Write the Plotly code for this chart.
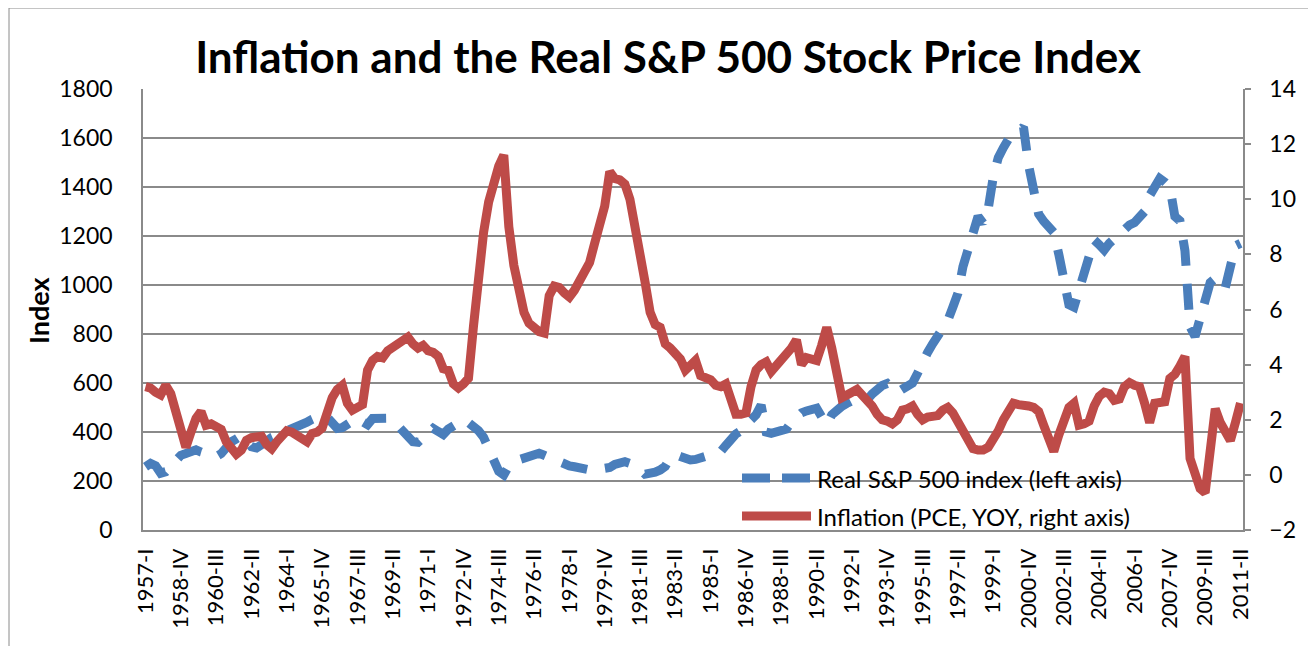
import plotly.graph_objects as go

# ---------------- data ----------------
YEARS = list(range(1957, 2012))
ROMAN = ["I", "II", "III", "IV"]
QUARTERS = [f"{y}-{r}" for y in YEARS for r in ROMAN][:218]  # 1957-I .. 2011-II

TICK_LABELS = ["1957-I", "1958-IV", "1960-III", "1962-II", "1964-I", "1965-IV",
               "1967-III", "1969-II", "1971-I", "1972-IV", "1974-III", "1976-II",
               "1978-I", "1979-IV", "1981-III", "1983-II", "1985-I", "1986-IV",
               "1988-III", "1990-II", "1992-I", "1993-IV", "1995-III", "1997-II",
               "1999-I", "2000-IV", "2002-III", "2004-II", "2006-I", "2007-IV",
               "2009-III", "2011-II"]

# Real S&P 500 index (left axis), quarterly
SP500_REAL = [
    258, 272, 262, 232,      # 1957
    238, 262, 285, 305,      # 1958
    312, 322, 327, 318,      # 1959
    312, 306, 300, 312,      # 1960
    340, 360, 372, 385,      # 1961
    365, 340, 335, 345,      # 1962
    362, 378, 386, 398,      # 1963
    410, 418, 425, 430,      # 1964
    440, 452, 460, 470,      # 1965
    460, 435, 415, 418,      # 1966
    432, 445, 458, 442,      # 1967
    430, 455, 456, 462,      # 1968
    456, 448, 425, 412,      # 1969
    385, 360, 358, 375,      # 1970
    398, 415, 402, 390,      # 1971
    412, 428, 440, 450,      # 1972
    438, 422, 405, 378,      # 1973
    335, 290, 240, 225,      # 1974
    262, 280, 288, 298,      # 1975
    306, 310, 313, 305,      # 1976
    295, 283, 275, 268,      # 1977
    262, 258, 252, 250,      # 1978
    245, 245, 246, 245,      # 1979
    255, 268, 276, 279,      # 1980
    272, 264, 248, 228,      # 1981
    228, 236, 245, 260,      # 1982
    295, 308, 300, 292,      # 1983
    286, 288, 293, 299,      # 1984
    305, 312, 320, 345,      # 1985
    372, 392, 405, 412,      # 1986
    450, 470, 510, 400,      # 1987
    395, 400, 406, 412,      # 1988
    440, 462, 478, 486,      # 1989
    492, 497, 462, 430,      # 1990
    470, 492, 505, 517,      # 1991
    528, 538, 535, 531,      # 1992
    555, 575, 590, 598,      # 1993
    582, 562, 575, 590,      # 1994
    600, 640, 690, 725,      # 1995
    760, 790, 815, 855,      # 1996
    910, 966, 1075, 1140,    # 1997
    1220, 1280, 1252, 1310,  # 1998
    1440, 1520, 1560, 1595,  # 1999
    1610, 1630, 1645, 1490,  # 2000
    1390, 1290, 1260, 1240,  # 2001
    1215, 1125, 1000, 920,   # 2002
    910, 975, 1060, 1116,    # 2003
    1184, 1165, 1143, 1170,  # 2004
    1190, 1205, 1225, 1245,  # 2005
    1255, 1280, 1300, 1365,  # 2006
    1400, 1435, 1420, 1400,  # 2007
    1280, 1262, 1140, 830,   # 2008
    790, 860, 935, 1010,     # 2009
    1027, 1027, 990, 1100,   # 2010
    1160, 1170,              # 2011
]

# Inflation, PCE year over year (right axis), quarterly
INFLATION = [
    3.2, 3.15, 3.0, 2.9,     # 1957
    3.25, 2.95, 2.3, 1.6,    # 1958
    1.0, 1.55, 2.05, 2.3,    # 1959
    1.8, 1.85, 1.75, 1.65,   # 1960
    1.2, 0.95, 0.75, 0.9,    # 1961
    1.25, 1.35, 1.4, 1.4,    # 1962
    1.1, 0.95, 1.2, 1.4,     # 1963
    1.6, 1.55, 1.45, 1.3,    # 1964
    1.2, 1.5, 1.55, 1.7,     # 1965
    2.3, 2.8, 3.1, 3.25,     # 1966
    2.6, 2.35, 2.45, 2.55,   # 1967
    3.8, 4.15, 4.3, 4.25,    # 1968
    4.5, 4.65, 4.8, 4.95,    # 1969
    5.0, 4.75, 4.6, 4.7,     # 1970
    4.5, 4.45, 4.3, 3.85,    # 1971
    3.8, 3.3, 3.15, 3.3,     # 1972
    3.5, 5.4, 7.3, 8.8,      # 1973
    9.9, 10.7, 11.2, 11.6,   # 1974
    9.0, 7.6, 6.6, 5.9,      # 1975
    5.5, 5.3, 5.2, 5.15,     # 1976
    6.5, 6.85, 6.8, 6.6,     # 1977
    6.45, 6.7, 7.05, 7.45,   # 1978
    7.7, 8.4, 9.2, 9.75,     # 1979
    11.0, 10.75, 10.7, 10.55,  # 1980
    10.0, 9.1, 8.2, 7.0,     # 1981
    5.9, 5.45, 5.35, 4.75,   # 1982
    4.6, 4.45, 4.2, 3.8,     # 1983
    3.95, 4.15, 3.6, 3.5,    # 1984
    3.45, 3.25, 3.2, 3.3,    # 1985
    2.8, 2.2, 2.2, 2.25,     # 1986
    3.2, 3.8, 4.0, 4.1,      # 1987
    3.75, 3.95, 4.2, 4.4,    # 1988
    4.6, 4.9, 4.0, 4.25,     # 1989
    4.2, 4.15, 4.7, 5.35,    # 1990
    4.6, 3.7, 2.8, 2.9,      # 1991
    3.05, 3.1, 2.9, 2.75,    # 1992
    2.5, 2.2, 2.0, 1.95,     # 1993
    1.85, 2.0, 2.35, 2.4,    # 1994
    2.5, 2.2, 2.0, 2.1,      # 1995
    2.15, 2.15, 2.35, 2.45,  # 1996
    2.25, 1.95, 1.65, 1.2,   # 1997
    0.95, 0.9, 0.9, 1.0,     # 1998
    1.25, 1.6, 2.0, 2.35,    # 1999
    2.6, 2.55, 2.55, 2.5,    # 2000
    2.45, 2.3, 1.8, 1.2,     # 2001
    0.85, 1.45, 2.0, 2.45,   # 2002
    2.6, 1.8, 1.85, 1.95,    # 2003
    2.5, 2.85, 3.0, 2.95,    # 2004
    2.7, 2.75, 3.2, 3.35,    # 2005
    3.25, 3.2, 2.6, 1.9,     # 2006
    2.6, 2.6, 2.65, 3.5,     # 2007
    3.65, 3.95, 4.3, 0.6,    # 2008
    -0.1, -0.5, -0.65, 1.0,  # 2009
    2.4, 1.9, 1.5, 1.25,     # 2010
    1.9, 2.6,                # 2011
]

SERIES_NAMES = ["Real S&P 500 index (left axis)", "Inflation (PCE, YOY, right axis)"]
TITLE = "Inflation and the Real S&P 500 Stock Price Index"

# ---------------- styling ----------------
FONT = "Lato, 'Open Sans', sans-serif"
BLUE = "#4A7EBB"
RED = "#BE4B48"
GRID = "#8a8a8a"
LINE_W = 9

W, H = 1316, 646
OFF = 8                      # page body margin offset in the screenshot
SL, SR, ST, SB = 143, 1243, 89, 530  # plot area in screen pixels
L, R, T, B = SL - OFF, SR - OFF, ST - OFF, SB - OFF


def px(x):
    """screen x pixel -> paper x"""
    return (x - SL) / (SR - SL)


def py(y):
    """screen y pixel -> paper y"""
    return (SB - y) / (SB - ST)


fig = go.Figure()
fig.add_trace(go.Scatter(
    x=QUARTERS, y=SP500_REAL, name=SERIES_NAMES[0], mode="lines",
    line=dict(color=BLUE, width=LINE_W, dash="26px,18px"), yaxis="y", showlegend=False,
))
fig.add_trace(go.Scatter(
    x=QUARTERS, y=INFLATION, name=SERIES_NAMES[1], mode="lines",
    line=dict(color=RED, width=LINE_W), yaxis="y2", showlegend=False,
))

fig.update_layout(
    width=W, height=H,
    margin=dict(l=L, r=W - R, t=T, b=H - B, pad=0),
    paper_bgcolor="white", plot_bgcolor="white",
    font=dict(family=FONT, color="black"),
    title=dict(text=f"<b>{TITLE}</b>", x=(668 - OFF) / W, xanchor="center",
               y=1 - (58 - OFF) / H, yanchor="middle", yref="container",
               font=dict(family=FONT, size=44, color="black")),
    xaxis=dict(
        type="category", categoryorder="array", categoryarray=QUARTERS,
        range=[-0.5, len(QUARTERS) - 0.5],
        tickmode="array", tickvals=TICK_LABELS, ticktext=TICK_LABELS,
        tickangle=-90, tickfont=dict(size=22), ticks="",
        ticklabelstandoff=8,
        showgrid=False, showline=True, linecolor=GRID, linewidth=1.5,
        zeroline=False, fixedrange=True,
    ),
    yaxis=dict(
        range=[0, 1800], tick0=0, dtick=200, tickfont=dict(size=23),
        showgrid=True, gridcolor=GRID, gridwidth=1.5,
        showline=True, linecolor=GRID, linewidth=1.5, zeroline=False,
        ticks="", ticklabelstandoff=24,
    ),
    yaxis2=dict(
        range=[-2, 14], tick0=-2, dtick=2, overlaying="y", side="right",
        tickfont=dict(size=23), showgrid=False, zeroline=False,
        showline=True, linecolor=GRID, linewidth=1.5,
        ticks="outside", ticklen=6, tickcolor=GRID, tickwidth=1.5,
        ticklabelstandoff=14,
    ),
    shapes=[
        # chart-area border
        dict(type="rect", xref="paper", yref="paper",
             x0=px(9), x1=px(1330), y0=py(660), y1=py(8),
             line=dict(color="#8a8a8a", width=1), layer="below"),
        # legend samples
        dict(type="line", xref="paper", yref="paper",
             x0=px(742), x1=px(811), y0=py(478), y1=py(478),
             line=dict(color=BLUE, width=LINE_W, dash="28px,12px")),
        dict(type="line", xref="paper", yref="paper",
             x0=px(742), x1=px(811), y0=py(516), y1=py(516),
             line=dict(color=RED, width=LINE_W)),
    ],
    annotations=[
        dict(text=SERIES_NAMES[0], xref="paper", yref="paper",
             x=px(815), y=py(478), xanchor="left", yanchor="middle",
             showarrow=False, font=dict(size=24)),
        dict(text=SERIES_NAMES[1], xref="paper", yref="paper",
             x=px(815), y=py(516), xanchor="left", yanchor="middle",
             showarrow=False, font=dict(size=24)),
        dict(text="<b>Index</b>", xref="paper", yref="paper",
             x=px(38), y=py(310), xanchor="center", yanchor="middle",
             textangle=-90, showarrow=False, font=dict(size=27)),
    ],
)

fig.write_html("out.html")
